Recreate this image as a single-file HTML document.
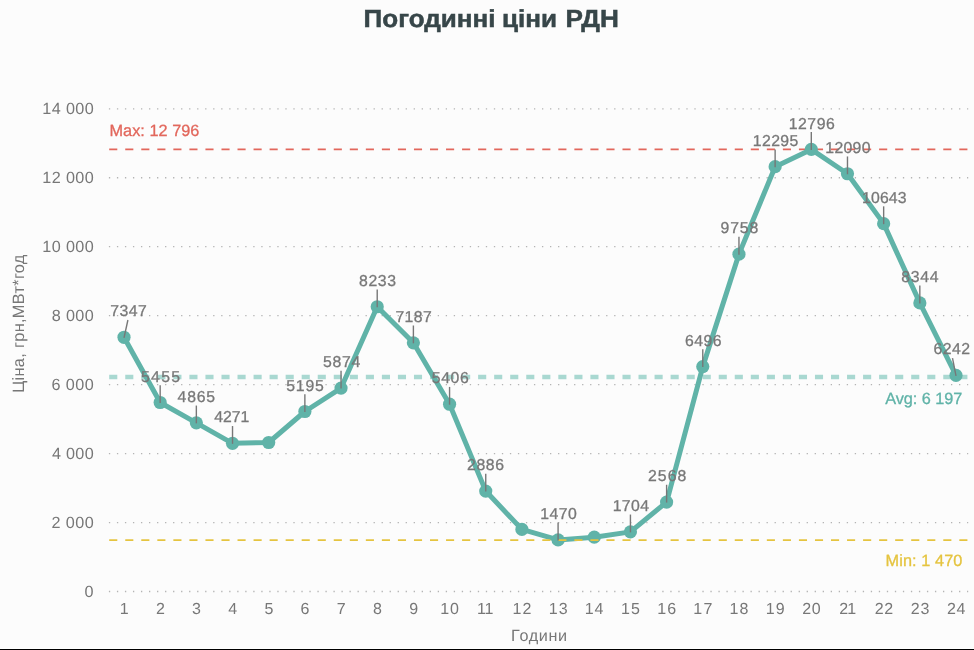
<!DOCTYPE html>
<html><head><meta charset="utf-8"><title>chart</title>
<style>
html,body{margin:0;padding:0;background:#fcfcfc;}
body{width:974px;height:650px;overflow:hidden;position:relative;}
svg{position:absolute;left:0;top:0;display:block;will-change:transform;}
text{font-family:"Liberation Sans",sans-serif;white-space:pre;text-rendering:geometricPrecision;}
</style></head><body>
<svg width="974" height="650" viewBox="0 0 974 650">
<rect x="0" y="0" width="974" height="650" fill="#fcfcfc"/>
<rect x="0" y="648" width="974" height="1" fill="#ffffff"/>
<rect x="0" y="649" width="974" height="1" fill="#000000"/>
<text x="363.57" y="26.80" font-size="24.6" font-weight="bold" fill="#374649" textLength="131.87" lengthAdjust="spacingAndGlyphs" stroke="#374649" stroke-width="0.5">Погодинні</text>
<text x="502.08" y="26.80" font-size="24.6" font-weight="bold" fill="#374649" textLength="55.03" lengthAdjust="spacingAndGlyphs" stroke="#374649" stroke-width="0.5">ціни</text>
<text x="565.50" y="26.80" font-size="24.6" font-weight="bold" fill="#374649" textLength="53.31" lengthAdjust="spacingAndGlyphs" stroke="#374649" stroke-width="0.5">РДН</text>
<line x1="108.9" x2="968.2" y1="591.50" y2="591.50" stroke="#b4b4b4" stroke-width="1.3" stroke-dasharray="1.3 6.72"/>
<text x="84.47" y="597.00" font-size="16.2" fill="#777777">0</text>
<line x1="108.9" x2="968.2" y1="522.54" y2="522.54" stroke="#b4b4b4" stroke-width="1.3" stroke-dasharray="1.3 6.72"/>
<text x="51.54" y="528.04" font-size="16.2" fill="#777777" style="letter-spacing:0.402px;">2 000</text>
<line x1="108.9" x2="968.2" y1="453.58" y2="453.58" stroke="#b4b4b4" stroke-width="1.3" stroke-dasharray="1.3 6.72"/>
<text x="51.98" y="459.08" font-size="16.2" fill="#777777" style="letter-spacing:0.291px;">4 000</text>
<line x1="108.9" x2="968.2" y1="384.62" y2="384.62" stroke="#b4b4b4" stroke-width="1.3" stroke-dasharray="1.3 6.72"/>
<text x="51.53" y="390.12" font-size="16.2" fill="#777777" style="letter-spacing:0.404px;">6 000</text>
<line x1="108.9" x2="968.2" y1="315.66" y2="315.66" stroke="#b4b4b4" stroke-width="1.3" stroke-dasharray="1.3 6.72"/>
<text x="51.65" y="321.16" font-size="16.2" fill="#777777" style="letter-spacing:0.374px;">8 000</text>
<line x1="108.9" x2="968.2" y1="246.70" y2="246.70" stroke="#b4b4b4" stroke-width="1.3" stroke-dasharray="1.3 6.72"/>
<text x="42.32" y="252.20" font-size="16.2" fill="#777777" style="letter-spacing:0.364px;">10 000</text>
<line x1="108.9" x2="968.2" y1="177.74" y2="177.74" stroke="#b4b4b4" stroke-width="1.3" stroke-dasharray="1.3 6.72"/>
<text x="42.32" y="183.24" font-size="16.2" fill="#777777" style="letter-spacing:0.364px;">12 000</text>
<line x1="108.9" x2="968.2" y1="108.78" y2="108.78" stroke="#b4b4b4" stroke-width="1.3" stroke-dasharray="1.3 6.72"/>
<text x="42.32" y="114.28" font-size="16.2" fill="#777777" style="letter-spacing:0.364px;">14 000</text>
<text x="124.20" y="613.5" text-anchor="middle" font-size="16" fill="#777777">1</text>
<text x="160.37" y="613.5" text-anchor="middle" font-size="16" fill="#777777">2</text>
<text x="196.55" y="613.5" text-anchor="middle" font-size="16" fill="#777777">3</text>
<text x="232.72" y="613.5" text-anchor="middle" font-size="16" fill="#777777">4</text>
<text x="268.90" y="613.5" text-anchor="middle" font-size="16" fill="#777777">5</text>
<text x="305.07" y="613.5" text-anchor="middle" font-size="16" fill="#777777">6</text>
<text x="341.24" y="613.5" text-anchor="middle" font-size="16" fill="#777777">7</text>
<text x="377.42" y="613.5" text-anchor="middle" font-size="16" fill="#777777">8</text>
<text x="413.59" y="613.5" text-anchor="middle" font-size="16" fill="#777777">9</text>
<text x="440.15" y="613.50" font-size="16" fill="#777777" style="letter-spacing:1.047px;">10</text>
<text x="477.02" y="613.50" font-size="16" fill="#777777" style="letter-spacing:-0.197px;">11</text>
<text x="512.49" y="613.50" font-size="16" fill="#777777" style="letter-spacing:1.227px;">12</text>
<text x="548.67" y="613.50" font-size="16" fill="#777777" style="letter-spacing:1.125px;">13</text>
<text x="584.84" y="613.50" font-size="16" fill="#777777" style="letter-spacing:0.891px;">14</text>
<text x="621.02" y="613.50" font-size="16" fill="#777777" style="letter-spacing:1.094px;">15</text>
<text x="657.19" y="613.50" font-size="16" fill="#777777" style="letter-spacing:1.125px;">16</text>
<text x="693.36" y="613.50" font-size="16" fill="#777777" style="letter-spacing:1.227px;">17</text>
<text x="729.54" y="613.50" font-size="16" fill="#777777" style="letter-spacing:1.117px;">18</text>
<text x="765.71" y="613.50" font-size="16" fill="#777777" style="letter-spacing:1.180px;">19</text>
<text x="802.30" y="613.50" font-size="16" fill="#777777" style="letter-spacing:0.633px;">20</text>
<text x="839.37" y="613.50" font-size="16" fill="#777777" style="letter-spacing:-1.011px;">21</text>
<text x="874.65" y="613.50" font-size="16" fill="#777777" style="letter-spacing:0.812px;">22</text>
<text x="910.82" y="613.50" font-size="16" fill="#777777" style="letter-spacing:0.711px;">23</text>
<text x="947.00" y="613.50" font-size="16" fill="#777777" style="letter-spacing:0.477px;">24</text>
<text x="511.07" y="640.50" font-size="16.2" fill="#777777" style="letter-spacing:0.635px;">Години</text>
<text transform="translate(24,391.5) rotate(-90)" x="-1.35" y="0" font-size="16.4" fill="#777777" style="letter-spacing:0.292px">Ціна, грн,МВт*год</text>
<line x1="109.2" x2="967.9" y1="149.4" y2="149.4" stroke="#E2675C" stroke-width="1.7" stroke-dasharray="8.1 7.94"/>
<line x1="109.2" x2="967.9" y1="377.1" y2="377.1" stroke="#A9D8D1" stroke-width="4.5" stroke-dasharray="8.1 7.94"/>
<polyline points="124.00,337.28 160.17,402.52 196.35,422.86 232.52,443.34 268.70,442.51 304.87,411.48 341.04,388.07 377.22,306.73 413.39,342.80 449.57,404.21 485.74,491.09 521.91,529.40 558.09,539.92 594.26,537.19 630.43,531.85 666.61,502.06 702.78,366.62 738.96,254.15 775.13,166.68 811.30,149.41 847.48,173.75 883.65,223.64 919.83,302.91 956.00,375.38" fill="none" stroke="#60B3A8" stroke-width="5" stroke-linejoin="round" stroke-linecap="round"/>
<circle cx="124.00" cy="337.28" r="6.6" fill="#60B3A8"/>
<circle cx="160.17" cy="402.52" r="6.6" fill="#60B3A8"/>
<circle cx="196.35" cy="422.86" r="6.6" fill="#60B3A8"/>
<circle cx="232.52" cy="443.34" r="6.6" fill="#60B3A8"/>
<circle cx="268.70" cy="442.51" r="6.6" fill="#60B3A8"/>
<circle cx="304.87" cy="411.48" r="6.6" fill="#60B3A8"/>
<circle cx="341.04" cy="388.07" r="6.6" fill="#60B3A8"/>
<circle cx="377.22" cy="306.73" r="6.6" fill="#60B3A8"/>
<circle cx="413.39" cy="342.80" r="6.6" fill="#60B3A8"/>
<circle cx="449.57" cy="404.21" r="6.6" fill="#60B3A8"/>
<circle cx="485.74" cy="491.09" r="6.6" fill="#60B3A8"/>
<circle cx="521.91" cy="529.40" r="6.6" fill="#60B3A8"/>
<circle cx="558.09" cy="539.92" r="6.6" fill="#60B3A8"/>
<circle cx="594.26" cy="537.19" r="6.6" fill="#60B3A8"/>
<circle cx="630.43" cy="531.85" r="6.6" fill="#60B3A8"/>
<circle cx="666.61" cy="502.06" r="6.6" fill="#60B3A8"/>
<circle cx="702.78" cy="366.62" r="6.6" fill="#60B3A8"/>
<circle cx="738.96" cy="254.15" r="6.6" fill="#60B3A8"/>
<circle cx="775.13" cy="166.68" r="6.6" fill="#60B3A8"/>
<circle cx="811.30" cy="149.41" r="6.6" fill="#60B3A8"/>
<circle cx="847.48" cy="173.75" r="6.6" fill="#60B3A8"/>
<circle cx="883.65" cy="223.64" r="6.6" fill="#60B3A8"/>
<circle cx="919.83" cy="302.91" r="6.6" fill="#60B3A8"/>
<circle cx="956.00" cy="375.38" r="6.6" fill="#60B3A8"/>
<line x1="109.2" x2="967.9" y1="540.1" y2="540.1" stroke="#E5C440" stroke-width="1.7" stroke-dasharray="8.1 7.94"/>
<text x="109.46" y="136.45" font-size="16.3" fill="#E2675C" style="letter-spacing:0.035px;" stroke-width="0.3" stroke="#E2675C">Max: 12 796</text>
<text x="885.27" y="403.95" font-size="16.3" fill="#60B3A8" style="letter-spacing:-0.054px;" stroke-width="0.3" stroke="#60B3A8">Avg: 6 197</text>
<text x="885.56" y="566.40" font-size="16.3" fill="#E5C440" style="letter-spacing:0.085px;" stroke-width="0.3" stroke="#E5C440">Min: 1 470</text>
<line x1="127.90" y1="319.98" x2="124.00" y2="337.78" stroke="#777777" stroke-width="1.4"/>
<text x="110.19" y="316.38" font-size="15.8" fill="#777777" style="letter-spacing:0.485px;" stroke-width="0.3" stroke="#777777">7347</text>
<line x1="160.17" y1="385.22" x2="160.17" y2="403.02" stroke="#777777" stroke-width="1.4"/>
<text x="141.07" y="381.62" font-size="15.8" fill="#777777" style="letter-spacing:1.249px;" stroke-width="0.3" stroke="#777777">5455</text>
<line x1="196.35" y1="405.56" x2="196.35" y2="423.36" stroke="#777777" stroke-width="1.4"/>
<text x="177.59" y="401.96" font-size="15.8" fill="#777777" style="letter-spacing:0.792px;" stroke-width="0.3" stroke="#777777">4865</text>
<line x1="232.52" y1="426.04" x2="232.52" y2="443.84" stroke="#777777" stroke-width="1.4"/>
<text x="214.14" y="422.44" font-size="15.8" fill="#777777" style="letter-spacing:-0.005px;" stroke-width="0.3" stroke="#777777">4271</text>
<line x1="304.87" y1="394.18" x2="304.87" y2="411.98" stroke="#777777" stroke-width="1.4"/>
<text x="286.17" y="390.58" font-size="15.8" fill="#777777" style="letter-spacing:0.849px;" stroke-width="0.3" stroke="#777777">5195</text>
<line x1="341.04" y1="370.77" x2="341.04" y2="388.57" stroke="#777777" stroke-width="1.4"/>
<text x="322.92" y="367.17" font-size="15.8" fill="#777777" style="letter-spacing:0.749px;" stroke-width="0.3" stroke="#777777">5874</text>
<line x1="377.22" y1="289.43" x2="377.22" y2="307.23" stroke="#777777" stroke-width="1.4"/>
<text x="359.01" y="285.83" font-size="15.8" fill="#777777" style="letter-spacing:0.611px;" stroke-width="0.3" stroke="#777777">8233</text>
<line x1="413.39" y1="325.50" x2="413.39" y2="343.30" stroke="#777777" stroke-width="1.4"/>
<text x="395.44" y="321.90" font-size="15.8" fill="#777777" style="letter-spacing:0.385px;" stroke-width="0.3" stroke="#777777">7187</text>
<line x1="449.57" y1="386.91" x2="449.57" y2="404.71" stroke="#777777" stroke-width="1.4"/>
<text x="431.77" y="383.31" font-size="15.8" fill="#777777" style="letter-spacing:0.593px;" stroke-width="0.3" stroke="#777777">5406</text>
<line x1="485.74" y1="473.79" x2="485.74" y2="491.59" stroke="#777777" stroke-width="1.4"/>
<text x="467.01" y="470.19" font-size="15.8" fill="#777777" style="letter-spacing:0.647px;" stroke-width="0.3" stroke="#777777">2886</text>
<line x1="558.09" y1="522.62" x2="558.09" y2="540.42" stroke="#777777" stroke-width="1.4"/>
<text x="540.30" y="519.02" font-size="15.8" fill="#777777" style="letter-spacing:0.424px;" stroke-width="0.3" stroke="#777777">1470</text>
<line x1="630.43" y1="514.55" x2="630.43" y2="532.35" stroke="#777777" stroke-width="1.4"/>
<text x="612.70" y="510.95" font-size="15.8" fill="#777777" style="letter-spacing:0.373px;" stroke-width="0.3" stroke="#777777">1704</text>
<line x1="666.61" y1="484.76" x2="666.61" y2="502.56" stroke="#777777" stroke-width="1.4"/>
<text x="648.11" y="481.16" font-size="15.8" fill="#777777" style="letter-spacing:0.977px;" stroke-width="0.3" stroke="#777777">2568</text>
<line x1="702.78" y1="349.32" x2="702.78" y2="367.12" stroke="#777777" stroke-width="1.4"/>
<text x="684.90" y="345.72" font-size="15.8" fill="#777777" style="letter-spacing:0.516px;" stroke-width="0.3" stroke="#777777">6496</text>
<line x1="738.96" y1="236.85" x2="738.96" y2="254.65" stroke="#777777" stroke-width="1.4"/>
<text x="720.56" y="233.25" font-size="15.8" fill="#777777" style="letter-spacing:0.826px;" stroke-width="0.3" stroke="#777777">9758</text>
<line x1="775.13" y1="149.38" x2="775.13" y2="167.18" stroke="#777777" stroke-width="1.4"/>
<text x="752.65" y="145.78" font-size="15.8" fill="#777777" style="letter-spacing:0.458px;" stroke-width="0.3" stroke="#777777">12295</text>
<line x1="811.30" y1="132.11" x2="811.30" y2="149.91" stroke="#777777" stroke-width="1.4"/>
<text x="788.75" y="128.51" font-size="15.8" fill="#777777" style="letter-spacing:0.515px;" stroke-width="0.3" stroke="#777777">12796</text>
<line x1="847.48" y1="156.45" x2="847.48" y2="174.25" stroke="#777777" stroke-width="1.4"/>
<text x="825.35" y="152.85" font-size="15.8" fill="#777777" style="letter-spacing:0.296px;" stroke-width="0.3" stroke="#777777">12090</text>
<line x1="883.65" y1="206.34" x2="883.65" y2="224.14" stroke="#777777" stroke-width="1.4"/>
<text x="862.10" y="202.74" font-size="15.8" fill="#777777" style="letter-spacing:0.140px;" stroke-width="0.3" stroke="#777777">10643</text>
<line x1="919.83" y1="285.61" x2="919.83" y2="303.41" stroke="#777777" stroke-width="1.4"/>
<text x="901.26" y="282.01" font-size="15.8" fill="#777777" style="letter-spacing:0.700px;" stroke-width="0.3" stroke="#777777">8344</text>
<line x1="952.50" y1="358.08" x2="956.00" y2="375.88" stroke="#777777" stroke-width="1.4"/>
<text x="933.40" y="354.48" font-size="15.8" fill="#777777" style="letter-spacing:0.516px;" stroke-width="0.3" stroke="#777777">6242</text>
</svg>
</body></html>
